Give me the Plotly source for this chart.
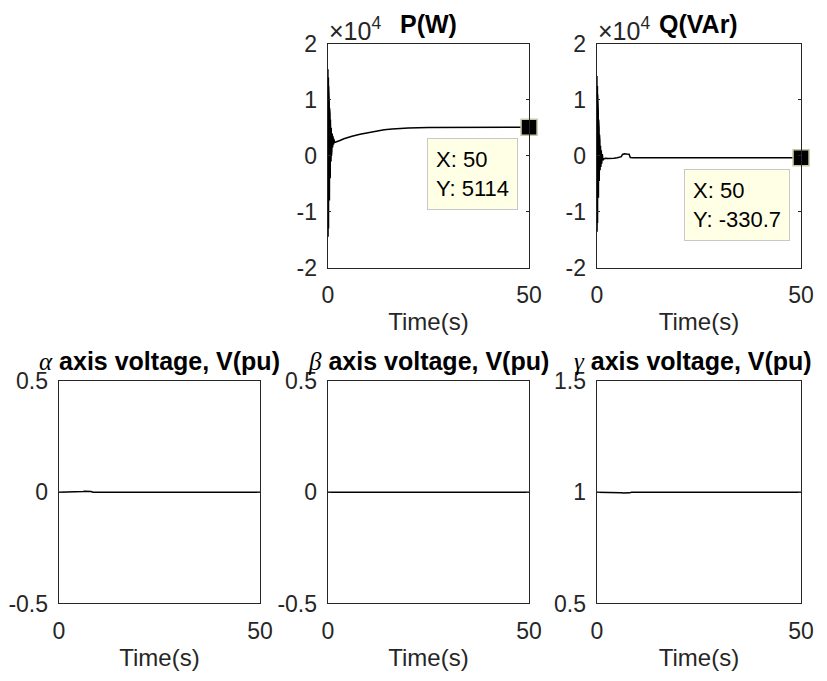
import plotly.graph_objects as go

# ---------------- data ----------------
p_time = [0, 0.03, 0.06, 0.09, 0.12, 0.15, 0.18, 0.21, 0.24, 0.27, 0.30, 0.35, 0.40, 0.45,
          0.50, 0.55, 0.60, 0.65, 0.70, 0.75, 0.80, 0.85, 0.90, 0.95, 1.00, 1.10, 1.20, 1.30,
          1.40, 1.50, 1.70, 2.0, 2.5, 3, 4, 5, 6, 8, 10, 12, 14, 16, 18, 20, 25, 30, 35, 40, 45, 50]
p_watts = [0, 15500, -14500, 15000, -14000, 14000, -13000, 12500, -11500, 11000, -10000, 9500,
           -8000, 8500, -6000, 7500, -4000, 6500, -2500, 5800, -1000, 5000, 0, 4500, 800, 4000,
           1500, 3500, 2000, 3000, 2400, 2450, 2600, 2750, 3050, 3300, 3500, 3850, 4150, 4450,
           4650, 4800, 4900, 4980, 5060, 5095, 5105, 5110, 5112, 5114]

q_time = [0, 0.03, 0.06, 0.09, 0.12, 0.15, 0.18, 0.21, 0.24, 0.27, 0.30, 0.35, 0.40, 0.45,
          0.50, 0.55, 0.60, 0.65, 0.70, 0.75, 0.80, 0.90, 1.00, 1.10, 1.20, 1.35, 1.5, 1.8,
          2.2, 2.8, 3.5, 4.2, 5.0, 5.6, 6.0, 6.3, 6.8, 7.3, 7.6, 7.9, 8.2, 9, 15, 25, 35, 50]
q_vars = [0, 14300, -13600, 13500, -13000, 12500, -12000, 11000, -10500, 9500, -9000, 8000,
          -7500, 6500, -6000, 5000, -4500, 3800, -3500, 2800, -2600, 1800, -2000, 1000, -1400,
          300, -800, -500, -420, -460, -380, -430, -350, -250, -150, 250, 380, 330, 380, 300,
          -300, -330, -331, -331, -331, -330.7]

alpha_time = [0, 5.5, 6.0, 6.5, 7.5, 8.0, 8.5, 50]
alpha_v = [0, 0, 0.003, 0.004, 0.004, 0.003, 0, 0]

beta_time = [0, 50]
beta_v = [0, 0]

gamma_time = [0, 5.5, 6.0, 6.5, 7.5, 8.0, 8.5, 50]
gamma_v = [1, 1, 0.997, 0.996, 0.996, 0.997, 1, 1]

x_ticks = [0, 50]
p_ticks = [-20000, -10000, 0, 10000, 20000]
p_ticktext = ["-2", "-1", "0", "1", "2"]
v_ticks = [-0.5, 0, 0.5]
v_ticktext = ["-0.5", "0", "0.5"]
g_ticks = [0.5, 1, 1.5]
g_ticktext = ["0.5", "1", "1.5"]

tip_p = (50, 5114)
tip_q = (50, -330.7)

# ---------------- layout helpers ----------------
# the figure autosizes to the page; the page keeps the default 8px body margin
PAGE_W, PAGE_H, BODY = 827, 681, 8
W, H = PAGE_W - 2 * BODY, PAGE_H - 2 * BODY
FONT = "Liberation Sans, Arial, sans-serif"
AX = "#262626"
TICK_FS = 23
LABEL_FS = 24
TITLE_FS = 25

# axes boxes in page pixels
cols = [(61, 263), (331, 533), (601, 806)]
rows = [(39.5, 266.5), (381.5, 607.5)]

def xd(c):
    return [(cols[c][0] - BODY) / W, (cols[c][1] - BODY) / W]

def yd(r):
    return [1 - (rows[r][1] - BODY) / H, 1 - (rows[r][0] - BODY) / H]

fig = go.Figure()

SERIF = "font-family:'Liberation Serif',serif;font-weight:normal"
panels = [
    (1, 0, p_time, p_watts, p_ticks, p_ticktext, [-20000, 20000], "<b>P(W)</b>"),
    (2, 0, q_time, q_vars, p_ticks, p_ticktext, [-20000, 20000], "<b>Q(VAr)</b>"),
    (0, 1, alpha_time, alpha_v, v_ticks, v_ticktext, [-0.5, 0.5],
     f"<span style=\"{SERIF}\"><i>α</i></span> <b>axis voltage, V(pu)</b>"),
    (1, 1, beta_time, beta_v, v_ticks, v_ticktext, [-0.5, 0.5],
     f"<span style=\"{SERIF}\"><i>β</i></span> <b>axis voltage, V(pu)</b>"),
    (2, 1, gamma_time, gamma_v, g_ticks, g_ticktext, [0.5, 1.5],
     f"<span style=\"{SERIF}\"><i>γ</i></span> <b>axis voltage, V(pu)</b>"),
]

annotations = []
for i, (c, r, xs, ys, tv, tt, rng, title) in enumerate(panels):
    n = "" if i == 0 else str(i + 1)
    fig.add_trace(go.Scatter(x=xs, y=ys, mode="lines",
                             line=dict(color="black", width=1.5),
                             xaxis="x" + n, yaxis="y" + n, showlegend=False,
                             hoverinfo="skip"))
    common = dict(showline=True, linecolor=AX, linewidth=1.3, mirror="ticks",
                  ticks="inside", ticklen=3, tickwidth=1, tickcolor=AX,
                  showgrid=False, zeroline=False,
                  tickfont=dict(family=FONT, size=TICK_FS, color=AX))
    fig.update_layout(**{
        "xaxis" + n: dict(domain=xd(c), range=[0, 50], tickvals=x_ticks,
                          anchor="y" + n, ticklabelstandoff=7,
                          title=dict(text="Time(s)",
                                     font=dict(family=FONT, size=LABEL_FS, color=AX),
                                     standoff=5),
                          **common),
        "yaxis" + n: dict(domain=yd(r), range=rng, tickvals=tv, ticktext=tt,
                          anchor="x" + n, ticklabelstandoff=5, **common),
    })
    dx = xd(c)
    dy = yd(r)
    tshift = -6 if c == 2 and r == 1 else 0
    annotations.append(dict(text=title, x=(dx[0] + dx[1]) / 2, y=dy[1], xref="paper",
                            yref="paper", xanchor="center", yanchor="bottom", yshift=4,
                            xshift=tshift, showarrow=False,
                            font=dict(family=FONT, size=TITLE_FS, color="black")))
    if r == 0:
        annotations.append(dict(text="×10<sup>4</sup>", x=dx[0], y=dy[1], xref="paper",
                                yref="paper", xanchor="left", yanchor="bottom", yshift=-3,
                                xshift=-1, showarrow=False,
                                font=dict(family=FONT, size=25, color=AX)))

# data tips
for n, tip in (("", tip_p), ("2", tip_q)):
    fig.add_trace(go.Scatter(x=[tip[0]], y=[tip[1]], mode="markers",
                             marker=dict(symbol="square", size=16, color="black",
                                         line=dict(color="rgb(200,200,160)", width=1.5)),
                             xaxis="x" + n, yaxis="y" + n, showlegend=False,
                             cliponaxis=False, hoverinfo="skip"))
    ytxt = f"{tip[1]:g}"
    annotations.append(dict(text=f"X: {tip[0]:g}<br>Y: {ytxt}", x=tip[0], y=tip[1],
                            xref="x" + n, yref="y" + n, xanchor="right", yanchor="top",
                            xshift=-11, yshift=-11, showarrow=False, align="left",
                            bgcolor="rgb(255,255,230)", bordercolor="rgb(200,200,200)",
                            borderwidth=1, borderpad=8,
                            font=dict(family=FONT, size=22, color="black")))

fig.update_layout(autosize=True, margin=dict(l=0, r=0, t=0, b=0),
                  paper_bgcolor="white", plot_bgcolor="white",
                  annotations=annotations, showlegend=False)

fig.write_html("out.html")
